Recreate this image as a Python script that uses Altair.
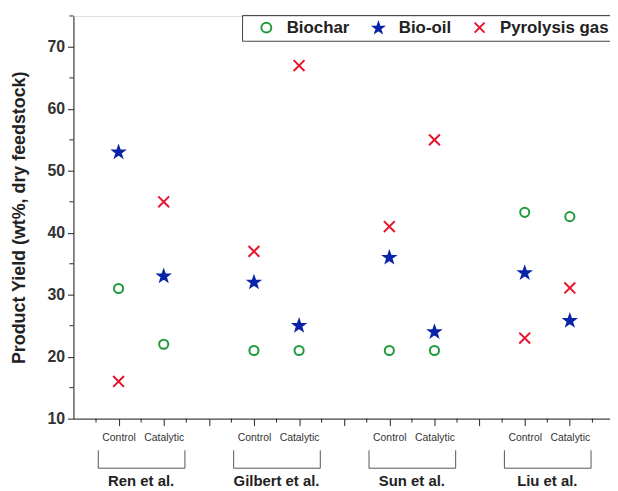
import altair as alt
import pandas as pd

groups = ["Ren et al.", "Gilbert et al.", "Sun et al.", "Liu et al."]
conditions = ["Control", "Catalytic"]
series = ["Biochar", "Bio-oil", "Pyrolysis gas"]
# values per group: [Control, Catalytic]
biochar = [[31, 22], [21, 21], [21, 21], [43.3, 42.6]]
bio_oil = [[53, 33], [32, 25], [36, 24], [33.5, 25.8]]
gas = [[16, 45], [37, 67], [41, 55], [23, 31.1]]

rows = []
for gi, g in enumerate(groups):
    for ci, c in enumerate(conditions):
        pos = gi * 3 + 1 + ci
        for s, vals in zip(series, [biochar, bio_oil, gas]):
            rows.append({"pos": pos, "group": g, "cond": c, "Series": s, "value": vals[gi][ci]})
df = pd.DataFrame(rows)

grp_df = pd.DataFrame({
    "group": groups,
    "x1": [gi * 3 + 1 - 0.45 for gi in range(len(groups))],
    "x2": [gi * 3 + 2 + 0.47 for gi in range(len(groups))],
    "mid": [gi * 3 + 1.5 for gi in range(len(groups))],
})

minor_x = pd.DataFrame({"x": [i + 0.5 for i in range(12)]})
minor_y = pd.DataFrame({"y": [15, 25, 35, 45, 55, 65, 75]})

FONT = "Liberation Sans"
W, H = 541, 406
xscale = alt.Scale(domain=[0, 541 / 45.5], nice=False, zero=False)
yscale = alt.Scale(domain=[10, 75], nice=False, zero=False)

X_PATH = "M-1,-1L1,1M-1,1L1,-1"
STAR_PATH = ("M0,-1L0.235,-0.324L0.951,-0.309L0.380,0.124L0.588,0.809L0,0.4"
             "L-0.588,0.809L-0.380,0.124L-0.951,-0.309L-0.235,-0.324Z")

xaxis = alt.Axis(values=list(range(1, 12)), title=None, grid=False,
                 tickSize=7, tickColor="#222", domainColor="#222",
                 labelExpr="datum.value % 3 == 1 ? 'Control' : (datum.value % 3 == 2 ? 'Catalytic' : '')",
                 labelFontSize=10.5, labelFont=FONT, labelColor="#333",
                 labelPadding=7, labelFlush=False)
yaxis = alt.Axis(values=[10, 20, 30, 40, 50, 60, 70], title="Product Yield (wt%, dry feedstock)",
                 grid=False, tickSize=6, tickColor="#222", domainColor="#222",
                 labelFontSize=16, labelFontWeight="bold", labelFont=FONT, labelColor="#333",
                 labelPadding=3, titleFontSize=18, titleFontWeight="bold", titleFont=FONT,
                 titleColor="#222", titlePadding=19)

leg = alt.Legend(title=None, orient="none", legendX=170, legendY=-1,
                 direction="horizontal", strokeColor="#444", padding=4,
                 labelFont=FONT, labelFontSize=17, labelFontWeight="bold",
                 labelColor="#222", columnPadding=8, symbolStrokeWidth=2,
                 labelOffset=12, symbolOffset=12)

stroke_enc = alt.Stroke("Series:N", scale=alt.Scale(domain=series, range=["#1f9a3c", "#0a24a8", "#e8142e"]),
                        legend=leg)
fill_enc = alt.Fill("Series:N", scale=alt.Scale(domain=series, range=["#ffffff", "#0a24a8", "#e8142e"]),
                    legend=leg)
shape_enc = alt.Shape("Series:N", scale=alt.Scale(domain=series, range=["circle", STAR_PATH, X_PATH]),
                      legend=leg)

marker_sizes = [85, 130, 120]
point_layers = []
for s, sz in zip(series, marker_sizes):
    point_layers.append(
        alt.Chart(df).transform_filter(alt.datum.Series == s)
        .mark_point(strokeWidth=2, opacity=1, size=sz).encode(
            x=alt.X("pos:Q", scale=xscale, axis=xaxis),
            y=alt.Y("value:Q", scale=yscale, axis=yaxis),
            stroke=stroke_enc, fill=fill_enc, shape=shape_enc,
        )
    )

minor_xt = alt.Chart(minor_x).mark_rule(color="#222", strokeWidth=1).encode(
    x=alt.X("x:Q", scale=xscale, axis=xaxis), y=alt.value(H), y2=alt.value(H + 4))
minor_yt = alt.Chart(minor_y).mark_rule(color="#222", strokeWidth=1).encode(
    y=alt.Y("y:Q", scale=yscale, axis=yaxis), x=alt.value(-4), x2=alt.value(0))

br_h = alt.Chart(grp_df).mark_rule(color="#555", strokeWidth=1).encode(
    x=alt.X("x1:Q", scale=xscale, axis=xaxis), x2="x2:Q", y=alt.value(456))
br_l = alt.Chart(grp_df).mark_rule(color="#555", strokeWidth=1).encode(
    x=alt.X("x1:Q", scale=xscale, axis=xaxis), y=alt.value(438), y2=alt.value(456))
br_r = alt.Chart(grp_df).mark_rule(color="#555", strokeWidth=1).encode(
    x=alt.X("x2:Q", scale=xscale, axis=xaxis), y=alt.value(438), y2=alt.value(456))
grp_txt = alt.Chart(grp_df).mark_text(font=FONT, fontSize=15, fontWeight="bold", color="#222",
                                      baseline="middle").encode(
    x=alt.X("mid:Q", scale=xscale, axis=xaxis), y=alt.value(469), text="group:N")

chart = alt.layer(*point_layers, minor_xt, minor_yt, br_h, br_l, br_r, grp_txt).properties(
    width=W, height=H,
    autosize=alt.AutoSizeParams(type="none"),
    padding={"left": 66, "top": 6, "right": 0, "bottom": 77},
).configure_view(stroke=None).configure(background="white")

chart.save("out.html", embed_options={"renderer": "svg", "actions": False})
